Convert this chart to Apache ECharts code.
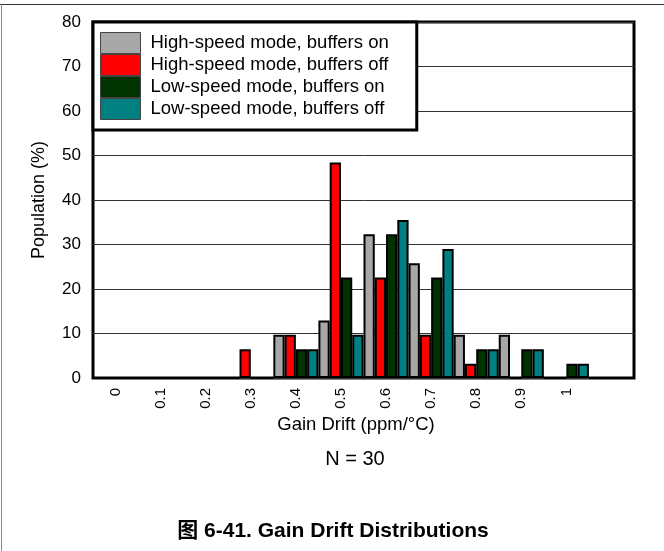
<!DOCTYPE html>
<html>
<head>
<meta charset="utf-8">
<script src="https://cdn.jsdelivr.net/npm/echarts@6/dist/echarts.min.js"></script>
<style>
  html, body { margin: 0; padding: 0; background: #fff; }
  #main { width: 664px; height: 551px; }
</style>
</head>
<body>
<div id="main"></div>
<script>
// bins of gain drift (ppm/°C), last slot is an empty category
const categories = ['0', '0.1', '0.2', '0.3', '0.4', '0.5', '0.6', '0.7', '0.8', '0.9', '1', ''];
// population in %
const hsBuffersOn  = [0, 0, 0, 0,    9.7,  12.9, 32.3, 25.8, 9.7,  9.7,  0,   0];
const hsBuffersOff = [0, 0, 0, 6.45, 9.7,  48.4, 22.6, 9.7,  3.2,  0,    0,   0];
const lsBuffersOn  = [0, 0, 0, 0,    6.45, 22.6, 32.3, 22.6, 6.45, 6.45, 3.2, 0];
const lsBuffersOff = [0, 0, 0, 0,    6.45, 9.7,  35.5, 29.0, 6.45, 6.45, 3.2, 0];
const yTicks = { min: 0, max: 80, interval: 10 };

const FONT = "'Liberation Sans', Arial, sans-serif";

const chart = echarts.init(document.getElementById('main'), null, { renderer: 'canvas' });

function barSeries(name, data, color) {
  return {
    name: name,
    type: 'bar',
    data: data,
    barGap: '0%',
    barCategoryGap: '0%',
    itemStyle: { color: color, borderColor: '#000', borderWidth: 2 }
  };
}

const option = {
  backgroundColor: '#fff',
  animation: false,
  grid: {
    left: 93, right: 30, top: 22, bottom: 173,
    show: true,
    borderColor: '#000',
    borderWidth: 3
  },
  legend: {
    orient: 'vertical',
    left: 93,
    top: 22,
    padding: [10, 28, 10, 7],
    itemWidth: 40,
    itemHeight: 21,
    itemGap: 0,
    backgroundColor: '#fff',
    borderColor: '#000',
    borderWidth: 3,
    itemStyle: { borderColor: '#444', borderWidth: 1 },
    textStyle: { fontFamily: FONT, fontSize: 18.5, color: '#000', padding: [0, 0, 0, 5] },
    data: [
      { name: 'High-speed mode, buffers on', icon: 'rect' },
      { name: 'High-speed mode, buffers off', icon: 'rect' },
      { name: 'Low-speed mode, buffers on', icon: 'rect' },
      { name: 'Low-speed mode, buffers off', icon: 'rect' }
    ]
  },
  xAxis: {
    type: 'category',
    data: categories,
    boundaryGap: true,
    axisLine: { show: false },
    axisTick: { show: false },
    axisLabel: {
      rotate: 90,
      margin: 10,
      interval: 0,
      fontFamily: FONT,
      fontSize: 15,
      color: '#000'
    },
    splitLine: { show: false }
  },
  yAxis: {
    type: 'value',
    min: yTicks.min,
    max: yTicks.max,
    interval: yTicks.interval,
    name: 'Population (%)',
    nameLocation: 'middle',
    nameGap: 45,
    nameTextStyle: { fontFamily: FONT, fontSize: 18, color: '#000' },
    axisLine: { show: false },
    axisTick: { show: false },
    axisLabel: { margin: 12, fontFamily: FONT, fontSize: 17, color: '#000' },
    splitLine: { show: true, lineStyle: { color: '#333', width: 1 } }
  },
  graphic: [
    { type: 'line', shape: { x1: 0, y1: 4.5, x2: 664, y2: 4.5 }, style: { stroke: '#333', lineWidth: 1 } },
    { type: 'line', shape: { x1: 1.5, y1: 4, x2: 1.5, y2: 551 }, style: { stroke: '#888', lineWidth: 1 } },
    {
      type: 'text', x: 356, y: 415,
      style: { text: 'Gain Drift (ppm/°C)', font: '18.5px ' + FONT, fill: '#000', align: 'center', verticalAlign: 'top' }
    },
    {
      type: 'text', x: 355, y: 449,
      style: { text: 'N = 30', font: '20px ' + FONT, fill: '#000', align: 'center', verticalAlign: 'top' }
    },
    {
      type: 'text', x: 333, y: 521,
      style: {
        text: '图 6-41. Gain Drift Distributions',
        font: "bold 21px 'Liberation Sans', 'Noto Sans CJK SC', sans-serif",
        fill: '#000', align: 'center', verticalAlign: 'top'
      }
    }
  ],
  series: [
    barSeries('High-speed mode, buffers on', hsBuffersOn, '#a8a8a8'),
    barSeries('High-speed mode, buffers off', hsBuffersOff, '#ff0000'),
    barSeries('Low-speed mode, buffers on', lsBuffersOn, '#003300'),
    barSeries('Low-speed mode, buffers off', lsBuffersOff, '#008080')
  ]
};

chart.setOption(option);
</script>
</body>
</html>
